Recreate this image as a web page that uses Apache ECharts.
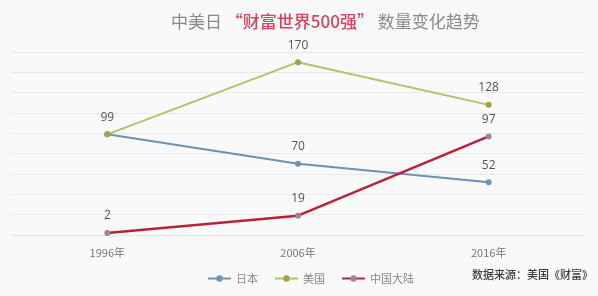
<!DOCTYPE html>
<html><head><meta charset="utf-8">
<script src="https://cdn.jsdelivr.net/npm/echarts@6/dist/echarts.min.js"></script>
<style>html,body{margin:0;padding:0;background:#faf9fa}#c{width:598px;height:296px}</style>
</head><body><div id="c"></div>
<script>
const categories = ['1996年', '2006年', '2016年'];
const japan = [99, 70, 52];
const usa = [99, 170, 128];
const china = [2, 19, 97];
const seriesNames = ['日本', '美国', '中国大陆'];

const chart = echarts.init(document.getElementById('c'));
const lbl = {show: true, position: 'top', color: '#555', fontSize: 12, fontFamily: 'Open Sans', distance: 8};
chart.setOption({
  backgroundColor: '#faf9fa',
  animation: false,
  title: {
    text: '{a|中美日 }{b|“财富世界500强”}{a| 数量变化趋势}',
    left: 166, top: 8,
    textStyle: {
      rich: {
        a: {fontSize: 17, color: '#8a8a8a', fontFamily: 'Noto Sans CJK SC', fontWeight: 'normal'},
        b: {fontSize: 17, color: '#d8425e', fontFamily: 'Noto Sans CJK SC', fontWeight: 500}
      }
    }
  },
  legend: {
    top: 268, left: 202, itemGap: 16, itemWidth: 23, itemHeight: 8,
    textStyle: {color: '#888', fontSize: 11, fontFamily: 'Noto Sans CJK SC'},
    data: seriesNames
  },
  graphic: [{
    type: 'text', right: 5, top: 269,
    style: {text: '数据来源：美国《财富》', fill: '#3a3a3a', fontSize: 11, fontFamily: 'Noto Sans CJK SC', fontWeight: 500}
  }],
  grid: {left: 12, right: 14, top: 52, bottom: 61},
  xAxis: {
    type: 'category', data: categories, boundaryGap: true,
    axisLine: {show: true, lineStyle: {color: '#e4e4e4'}},
    axisTick: {show: false},
    axisLabel: {color: '#777', fontSize: 11, margin: 12, fontFamily: 'Noto Sans CJK SC'}
  },
  yAxis: {
    type: 'value', min: 0, max: 180, interval: 20,
    axisLine: {show: false}, axisTick: {show: false}, axisLabel: {show: false},
    splitLine: {lineStyle: {color: '#e9e9e9'}}
  },
  series: [
    {name: seriesNames[0], type: 'line', symbol: 'circle', symbolSize: 6,
     data: japan.map((v, i) => i === 0 ? {value: v, label: {show: false}} : v),
     lineStyle: {color: '#6b93b6', width: 2}, itemStyle: {color: '#6b93b6'}, label: lbl},
    {name: seriesNames[1], type: 'line', data: usa, symbol: 'circle', symbolSize: 6,
     lineStyle: {color: '#a9c766', width: 2}, itemStyle: {color: '#a9a044'}, label: lbl},
    {name: seriesNames[2], type: 'line', data: china, symbol: 'circle', symbolSize: 6,
     lineStyle: {color: '#b8223a', width: 2.5}, itemStyle: {color: '#a0868a'}, label: lbl}
  ]
});
</script></body></html>
